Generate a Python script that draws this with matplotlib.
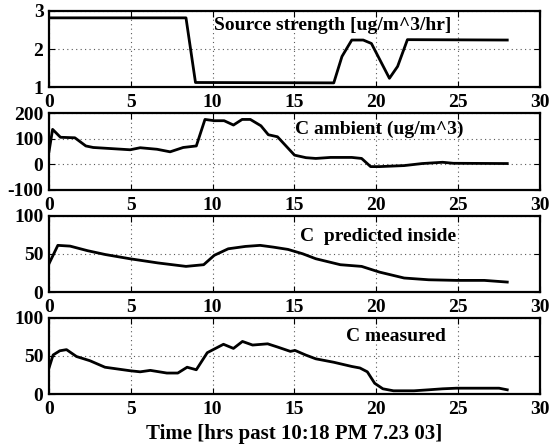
import matplotlib
matplotlib.use("Agg")
import matplotlib.pyplot as plt

plt.rcParams['font.family'] = ['Liberation Serif', 'DejaVu Serif']
plt.rcParams['font.weight'] = 'bold'
plt.rcParams['axes.unicode_minus'] = False

# Source strength
src_x = [0, 8.37, 8.95, 17.4, 17.9, 18.5, 19.2, 19.7, 20.8, 21.3, 21.9, 28.0]
src_y = [2.82, 2.82, 1.13, 1.12, 1.81, 2.24, 2.24, 2.15, 1.24, 1.55, 2.25, 2.24]

# C ambient
amb_x = [0, 0.22, 0.7, 1.58, 2.25, 2.7, 4.96, 5.57, 6.6, 7.4, 8.2, 9.0, 9.53, 10.1,
         10.7, 11.27, 11.8, 12.3, 12.95, 13.4, 13.96, 15.0, 15.7, 16.3, 17.2, 18.5,
         19.1, 19.65, 20.2, 21.7, 22.8, 24.05, 24.7, 28.0]
amb_y = [50, 137, 106, 104, 72, 66, 57, 65, 59, 49, 66, 72, 176, 171,
         171, 154, 176, 176, 151, 116, 108, 36, 26, 23, 27, 27,
         23, -9, -9, -5, 3, 8, 4, 3]

# C predicted inside
pred_x = [0, 0.54, 1.29, 2.36, 3.44, 4.94, 6.66, 8.37, 9.45, 10.1, 10.95, 12.0, 12.9,
          13.7, 14.6, 15.5, 16.3, 17.8, 19.1, 20.2, 21.7, 23.2, 24.9, 26.6, 28.0]
pred_y = [37, 61, 60, 54, 49, 43.5, 38, 33.5, 35.7, 48, 56.5, 59.6, 61,
          58.7, 55.7, 50, 43.5, 35.7, 33.5, 26, 18.3, 16, 15.2, 15.2, 13]

# C measured
meas_x = [0, 0.25, 0.66, 1.07, 1.68, 2.5, 3.42, 4.96, 5.57, 6.19, 7.2, 7.87, 8.44,
          9.0, 9.67, 10.66, 11.27, 11.82, 12.44, 13.36, 13.98, 14.75, 15.03, 15.68,
          16.3, 17.4, 18.5, 19.0, 19.45, 19.9, 20.4, 21.05, 22.3, 23.2, 24.05, 24.9,
          27.5, 28.0]
meas_y = [34, 51, 56.5, 58, 49, 43.5, 35, 30.4, 29, 30.9, 27.4, 27.4, 35,
          31.7, 54, 65, 59.6, 68.7, 64, 65.6, 61.3, 55.7, 57, 51,
          46, 41.5, 36, 34, 29, 14, 6.8, 4.2, 4.2, 5.5, 6.8, 7.6,
          7.6, 5.5]

titles = ["Source strength [ug/m^3/hr]", "C ambient (ug/m^3)",
          "C  predicted inside", "C measured"]
title_pos = [(17.35, 2.62), (20.2, 138), (20.1, 72), (21.2, 75)]
ylims = [(1, 3), (-100, 200), (0, 100), (0, 100)]
yticks = [[1, 2, 3], [-100, 0, 100, 200], [0, 50, 100], [0, 50, 100]]
xticks = [0, 5, 10, 15, 20, 25, 30]
xlabel = "Time [hrs past 10:18 PM 7.23 03]"

series = [(src_x, src_y), (amb_x, amb_y), (pred_x, pred_y), (meas_x, meas_y)]

fig = plt.figure(figsize=(5.5, 4.44), dpi=100)
left, width, height = 0.0891, 0.8927, 0.1723
bottoms = [0.803, 0.5725, 0.3423, 0.1126]

for i, (xs, ys) in enumerate(series):
    ax = fig.add_axes([left, bottoms[i], width, height])
    ax.plot(xs, ys, color='black', lw=2.0)
    ax.set_xlim(0, 30)
    ax.set_ylim(*ylims[i])
    ax.set_xticks(xticks)
    ax.set_yticks(yticks[i])
    ax.grid(True, linestyle=(0, (1, 3)), color='0.35', lw=0.8)
    for s in ax.spines.values():
        s.set_linewidth(1.6)
    ax.tick_params(direction='in', length=4, width=0.8, labelsize=14,
                   top=True, right=True)
    ax.tick_params(axis='x', pad=5)
    ax.tick_params(axis='y', pad=4)
    for lab in ax.get_xticklabels() + ax.get_yticklabels():
        lab.set_fontweight('bold')
    tx, ty = title_pos[i]
    ax.text(tx, ty, titles[i], ha='center', va='center', fontsize=14,
            fontweight='bold')
    if i == 3:
        ax.set_xlabel(xlabel, fontsize=15, fontweight='bold', labelpad=4)

fig.savefig("out.png", dpi=100)
